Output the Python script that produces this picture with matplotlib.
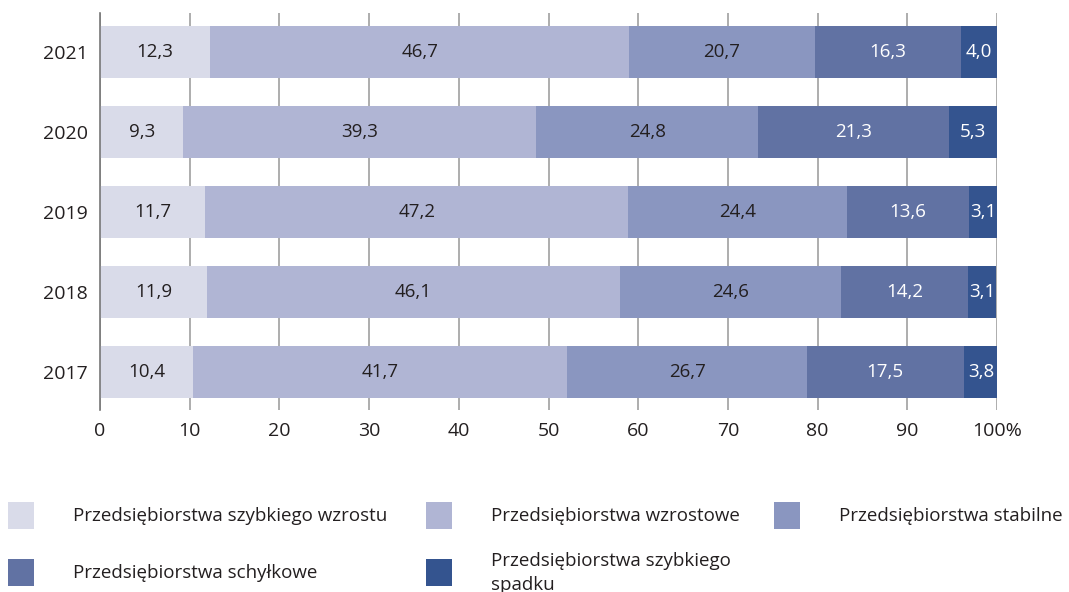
import matplotlib
matplotlib.use("Agg")
import matplotlib.pyplot as plt
from matplotlib.patches import Rectangle

plt.rcParams['font.family'] = ['Open Sans', 'DejaVu Sans']

years = ["2017", "2018", "2019", "2020", "2021"]
series_names = [
    "Przedsiębiorstwa szybkiego wzrostu",
    "Przedsiębiorstwa wzrostowe",
    "Przedsiębiorstwa stabilne",
    "Przedsiębiorstwa schyłkowe",
    "Przedsiębiorstwa szybkiego\nspadku",
]
szybki_wzrost = [10.4, 11.9, 11.7, 9.3, 12.3]
wzrostowe = [41.7, 46.1, 47.2, 39.3, 46.7]
stabilne = [26.7, 24.6, 24.4, 24.8, 20.7]
schylkowe = [17.5, 14.2, 13.6, 21.3, 16.3]
szybki_spadek = [3.8, 3.1, 3.1, 5.3, 4.0]
series = [szybki_wzrost, wzrostowe, stabilne, schylkowe, szybki_spadek]
colors = ["#d9dbe9", "#b0b5d4", "#8a96c0", "#6172a3", "#34548f"]
text_colors = ["#231f20", "#231f20", "#231f20", "white", "white"]
xticks = [0, 10, 20, 30, 40, 50, 60, 70, 80, 90, 100]
xticklabels = ["0", "10", "20", "30", "40", "50", "60", "70", "80", "90", "100%"]

fig = plt.figure(figsize=(10.69, 5.92), dpi=100)
ax = fig.add_axes([100/1069, 1-410/592, (997-100)/1069, (410-13)/592])

y = list(range(len(years)))
left = [0.0]*len(years)
for vals, c, tc in zip(series, colors, text_colors):
    ax.barh(y, vals, left=left, height=0.65, color=c, zorder=3)
    for yi, l, v in zip(y, left, vals):
        ax.text(l + v/2, yi, f"{v:.1f}".replace(".", ","), ha="center", va="center",
                color=tc, fontsize=13.5, zorder=4)
    left = [a + b for a, b in zip(left, vals)]

ax.set_xlim(0, 100)
ax.set_ylim(-0.475, 4.49)
ax.set_yticks(y)
ax.set_yticklabels(years)
ax.set_xticks(xticks)
ax.set_xticklabels(xticklabels)
ax.tick_params(axis='both', length=0, labelsize=14, colors="#231f20")
ax.tick_params(axis='x', pad=9)
ax.tick_params(axis='y', pad=9)
for s in ["top", "right", "bottom"]:
    ax.spines[s].set_visible(False)
ax.spines["left"].set_color("#777777")
ax.spines["left"].set_linewidth(1.2)
ax.spines["left"].set_zorder(5)
ax.grid(axis='x', color="#a0a0a0", linewidth=1.2, zorder=0)

# legend
W, H = 1069, 592
pos = [(8, 502), (426, 502), (774, 502), (8, 559), (426, 559)]
for (px, py), name, c in zip(pos, series_names, colors):
    fig.patches.append(Rectangle((px/W, 1-(py+27)/H), 26/W, 27/H, transform=fig.transFigure,
                                 facecolor=c, edgecolor="none"))
    fig.text((px+65)/W, 1-(py+14)/H, name, ha="left", va="center", fontsize=13.5,
             color="#231f20", linespacing=1.45)

fig.savefig("out.png", dpi=100)
